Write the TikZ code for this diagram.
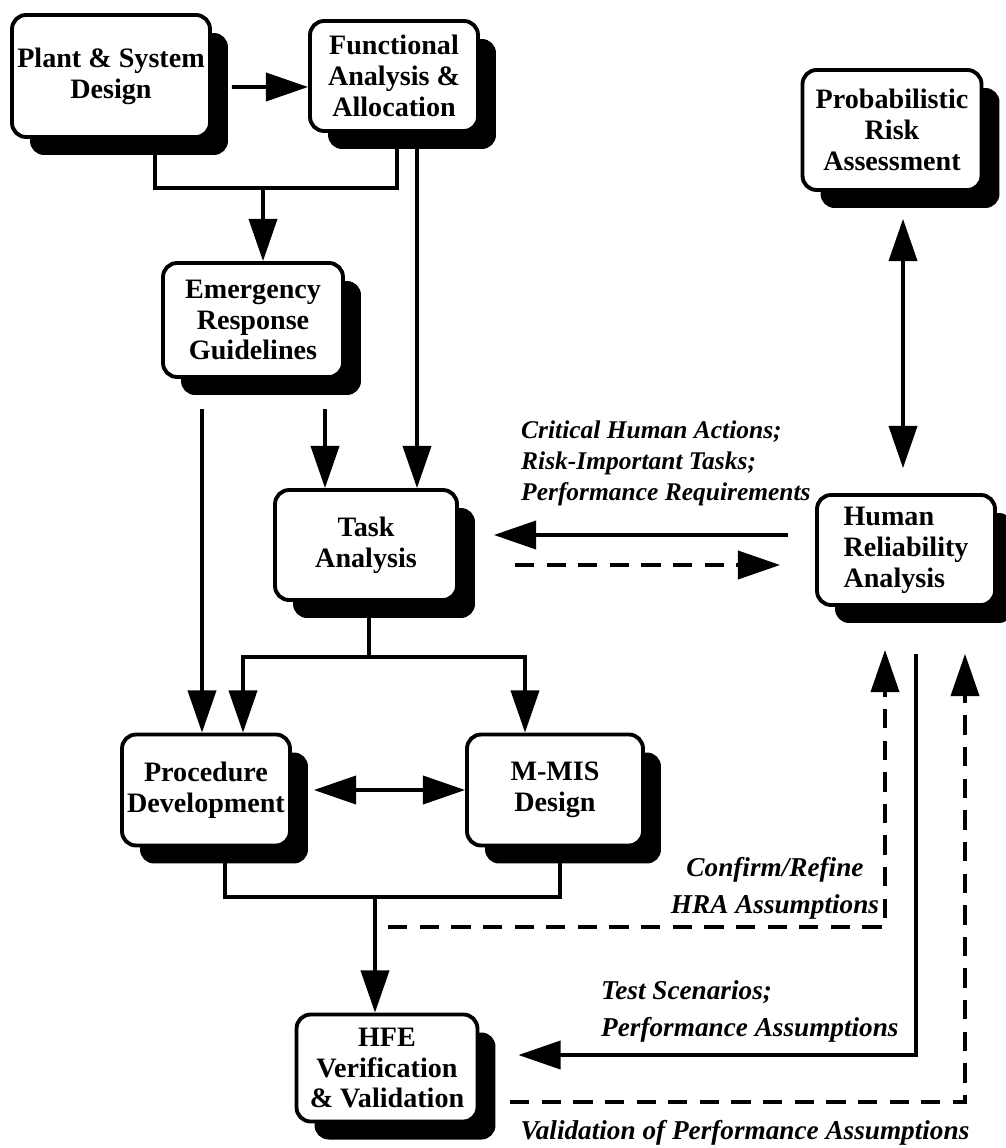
\documentclass[tikz,border=0pt]{standalone}
\usepackage{fontspec}
\setmainfont{Liberation Serif}
\usetikzlibrary{arrows.meta,shadows}

\begin{document}
\begin{tikzpicture}[x=0.02cm,y=-0.02cm,
    box/.style={draw,line width=2.2pt,rounded corners=8pt,fill=white,align=center,inner sep=2pt,
      font=\fontsize{16}{17.6}\selectfont\bfseries,
      drop shadow={shadow xshift=0.36cm,shadow yshift=-0.36cm,fill=black,opacity=1}},
    line/.style={line width=2pt},
    arr/.style={line width=2pt,-{Triangle[length=24pt,width=16pt]}},
    dbl/.style={line width=2pt,{Triangle[length=24pt,width=16pt]}-{Triangle[length=24pt,width=16pt]}},
    dashline/.style={dash pattern=on 11pt off 7pt},
    note/.style={font=\fontsize{15.5}{21}\selectfont\bfseries\itshape}]
  \useasboundingbox (0,0) rectangle (1006,1148);

  \node[box,minimum width=3.96cm,minimum height=2.44cm] (plant) at (111,76) {Plant \& System\\Design};
  \node[box,minimum width=3.36cm,minimum height=2.2cm] (func) at (394,76) {Functional\\Analysis \&\\Allocation};
  \node[box,minimum width=3.58cm,minimum height=2.4cm] (pra) at (892,130) {Probabilistic\\Risk\\Assessment};
  \node[box,minimum width=3.6cm,minimum height=2.28cm] (erg) at (253,320) {Emergency\\Response\\Guidelines};
  \node[box,minimum width=3.64cm,minimum height=2.2cm] (task) at (366,545) {Task\\Analysis};
  \node[box,align=left,minimum width=3.56cm,minimum height=2.2cm] (hra) at (906,550) {Human\\Reliability\\Analysis};
  \node[box,minimum width=3.36cm,minimum height=2.22cm] (proc) at (206,790) {Procedure\\Development};
  \node[box,minimum width=3.52cm,minimum height=2.22cm] (mmis) at (555,790) {M-MIS\\Design};
  \node[box,minimum width=3.62cm,minimum height=2.14cm] (hfe) at (387,1068) {HFE\\Verification\\\& Validation};

  \draw[arr] ([shift={(20,11)}]plant.east) -- ([yshift=-0.22cm]func.west);
  \draw[line] (plant.south -| 155,0) -- (155,188) -- (397,188) -- (func.south -| 397,0);
  \draw[arr] (263,188) -- (erg.north -| 263,0);
  \draw[arr] (func.south -| 417,0) -- (task.north -| 417,0);
  \draw[arr,shorten <=0.6cm] (erg.south -| 325,0) -- (task.north -| 325,0);
  \draw[arr,shorten <=0.6cm] (erg.south -| 202,0) -- (proc.north -| 202,0);

  \draw[line] (task.south -| 369,0) -- (369,657);
  \draw[arr] (369,657) -| (proc.north -| 243,0);
  \draw[arr] (369,657) -| (mmis.north -| 525,0);
  \draw[dbl,shorten <=0.44cm] (proc.east) -- (mmis.west);

  \draw[line] (proc.south -| 225,0) -- (225,897) -- (560,897) -- (mmis.south -| 560,0);
  \draw[arr] (375,897) -- (hfe.north -| 375,0);

  \draw[dbl,shorten <=0.54cm,shorten >=0.5cm] (pra.south -| 903,0) -- (hra.north -| 903,0);
  \draw[arr,shorten <=0.54cm,shorten >=0.7cm] (hra.west |- 0,535) -- (task.east |- 0,535);
  \draw[arr,dashline,shorten <=1.12cm,shorten >=0.7cm] (task.east |- 0,565) -- (hra.west |- 0,565);

  \draw[arr,dashline,shorten >=0.86cm] (388,927) -- (885,927) -- (hra.south -| 885,0);
  \draw[arr,shorten <=0.94cm,shorten >=0.78cm] (hra.south -| 916,0) |- (hfe.east |- 0,1055);
  \draw[arr,dashline,shorten >=0.94cm] (510,1102) -| (hra.south -| 965,0);

  \node[note,font=\fontsize{14.5}{17.6}\selectfont\bfseries\itshape,align=left,anchor=west] (cha) at (515,463) {Critical Human Actions;\\Risk-Important Tasks;\\Performance Requirements};
  \node[note,align=center] (crf) at (775,888) {Confirm/Refine\\HRA Assumptions};
  \node[note,align=left,anchor=west] (tsc) at (595,1011) {Test Scenarios;\\Performance Assumptions};
  \node[note] (vpa) at (745,1133) {Validation of Performance Assumptions};
\end{tikzpicture}
\end{document}
